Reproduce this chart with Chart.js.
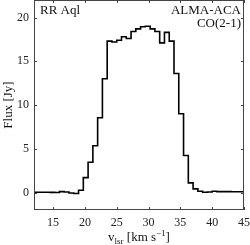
<!DOCTYPE html>
<html>
<head>
<meta charset="utf-8">
<script src="https://cdn.jsdelivr.net/npm/chart.js@4/dist/chart.umd.min.js"></script>
<style>
  body { margin: 0; background: #fff; }
  #c { display: block; }
</style>
</head>
<body>
<canvas id="c" width="250" height="245"></canvas>
<script>
// channel centres (km/s) and flux (Jy)
const velocity = [11.875, 12.625, 13.375, 14.125, 14.875, 15.625, 16.375, 17.125, 17.875, 18.625,
  19.375, 20.125, 20.875, 21.625, 22.375, 23.125, 23.875, 24.625, 25.375, 26.125,
  26.875, 27.625, 28.375, 29.125, 29.875, 30.625, 31.375, 32.125, 32.875, 33.625,
  34.375, 35.125, 35.875, 36.625, 37.375, 38.125, 38.875, 39.625, 40.375, 41.125,
  41.875, 42.625, 43.375, 44.125, 44.875, 45.625]
const flux = [0.03, 0.03, 0.03, 0.03, 0.02, 0.0, 0.1, 0.05, -0.05, -0.12,
  0.25, 1.7, 3.45, 5.35, 8.55, 13.0, 17.3, 17.2, 17.4, 17.8,
  17.6, 18.4, 18.7, 18.95, 19.0, 18.7, 18.4, 17.1, 18.3, 17.3,
  13.6, 9.0, 4.23, 1.1, 0.42, 0.15, 0.03, 0.05, 0.15, 0.1,
  0.1, 0.1, 0.08, 0.08, 0.08, 0.08]
const xTicks = [15, 20, 25, 30, 35, 40, 45]
const yTicks = [0, 5, 10, 15, 20]

const serif = "'Liberation Serif', 'DejaVu Serif', serif"
const axisColor = '#444'

const frame = {
  id: 'frame',
  afterDraw(chart) {
    const { ctx, chartArea: a, scales } = chart
    ctx.save()
    ctx.strokeStyle = axisColor
    ctx.lineWidth = 1
    ctx.strokeRect(a.left + 0.5, a.top + 0.5, a.right - a.left - 1, a.bottom - a.top - 1)
    ctx.beginPath()
    xTicks.forEach(t => {
      const x = Math.round(scales.x.getPixelForValue(t)) + 0.5
      ctx.moveTo(x, a.bottom); ctx.lineTo(x, a.bottom - 3)
      ctx.moveTo(x, a.top); ctx.lineTo(x, a.top + 3)
    })
    yTicks.forEach(t => {
      const y = Math.round(scales.y.getPixelForValue(t)) + 0.5
      ctx.moveTo(a.left, y); ctx.lineTo(a.left + 3, y)
      ctx.moveTo(a.right, y); ctx.lineTo(a.right - 3, y)
    })
    ctx.stroke()

    ctx.fillStyle = '#111'
    ctx.font = '13px ' + serif
    ctx.textBaseline = 'alphabetic'
    ctx.textAlign = 'left'
    ctx.fillText('RR Aql', a.left + 6, 14)
    ctx.textAlign = 'right'
    ctx.fillText('ALMA-ACA', a.right - 3, 14)
    ctx.fillText('CO(2-1)', a.right - 3, 27)

    // x axis title with sub/superscript
    const cx = (a.left + a.right) / 2
    const base = 241
    const parts = [
      ['v', 13, 0], ['lsr', 9, 3], [' [km s', 13, 0], ['\u22121', 9, -5], [']', 13, 0]
    ]
    let w = 0
    parts.forEach(p => { ctx.font = p[1] + 'px ' + serif; w += ctx.measureText(p[0]).width })
    let x = cx - w / 2
    ctx.textAlign = 'left'
    parts.forEach(p => {
      ctx.font = p[1] + 'px ' + serif
      ctx.fillText(p[0], x, base + p[2])
      x += ctx.measureText(p[0]).width
    })

    // y axis title
    ctx.save()
    ctx.translate(12, 105)
    ctx.rotate(-Math.PI / 2)
    ctx.textAlign = 'center'
    ctx.font = '13px ' + serif
    ctx.fillText('Flux [Jy]', 0, 0)
    ctx.restore()
    ctx.restore()
  }
}

new Chart(document.getElementById('c'), {
  type: 'line',
  data: {
    datasets: [{
      data: velocity.map((v, i) => ({ x: v, y: flux[i] })),
      stepped: 'middle',
      borderColor: '#000',
      borderWidth: 1.6,
      pointRadius: 0,
      fill: false
    }]
  },
  options: {
    responsive: false,
    devicePixelRatio: 1,
    animation: false,
    layout: { padding: { top: 0, right: 6, left: 0, bottom: 0 } },
    plugins: { legend: { display: false }, tooltip: { enabled: false } },
    scales: {
      x: {
        type: 'linear', min: 12, max: 45,
        afterBuildTicks: s => { s.ticks = xTicks.map(v => ({ value: v })) },
        afterFit: s => { s.height = 35; s.paddingLeft = 0; s.paddingRight = 0 },
        grid: { display: false, drawTicks: false },
        border: { display: false },
        ticks: { padding: 6, color: '#222', font: { family: serif, size: 12 } }
      },
      y: {
        type: 'linear', min: -2, max: 22,
        afterBuildTicks: s => { s.ticks = yTicks.map(v => ({ value: v })) },
        afterFit: s => { s.width = 34; s.paddingTop = 0; s.paddingBottom = 0 },
        grid: { display: false, drawTicks: false },
        border: { display: false },
        ticks: { padding: 5, color: '#222', font: { family: serif, size: 12 } }
      }
    }
  },
  plugins: [frame]
})
</script>
</body>
</html>
